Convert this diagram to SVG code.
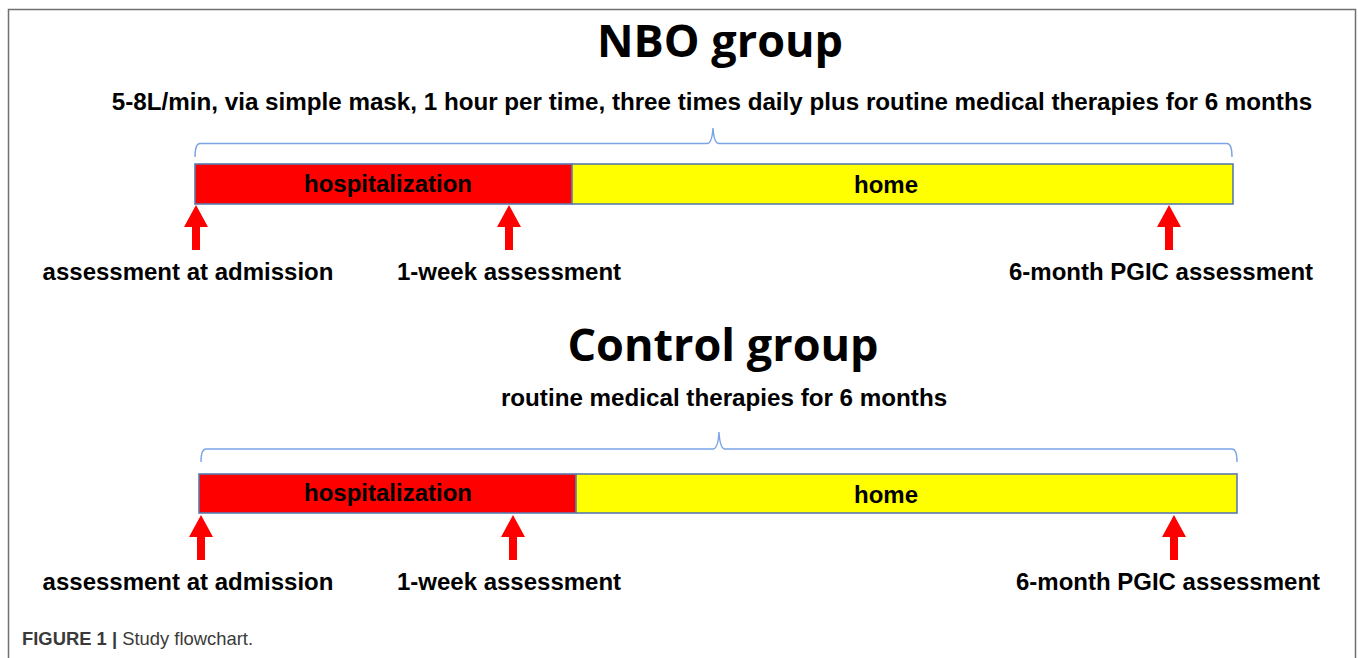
<svg xmlns="http://www.w3.org/2000/svg" width="1358" height="658" viewBox="0 0 1358 658">
  <defs>
    <style>
      .title { font-family: "Open Sans", "Noto Sans", "Liberation Sans", sans-serif; font-weight: 700; font-size: 45px; fill: #000; text-anchor: middle; }
      .sub { font-family: "Liberation Sans", Arial, sans-serif; font-weight: 700; font-size: 24.2px; fill: #000; text-anchor: middle; }
      .lbl { font-family: "Liberation Sans", Arial, sans-serif; font-weight: 700; font-size: 24px; fill: #000; text-anchor: middle; }
      .bar { stroke: #5a7bb0; stroke-width: 1.6; }
      .hosp { fill: #ff0000; }
      .home { fill: #ffff00; }
      .brace { fill: none; stroke: #7aa3e6; stroke-width: 1.4; }
      .arrow { fill: #ff0000; }
      .cap { font-family: "Liberation Sans", Arial, sans-serif; font-size: 18.4px; fill: #3a3a3a; }
    </style>
    <!-- upward block arrow, tip at origin -->
    <path id="uparrow" d="M0,0 L12,22 L4,22 L4,45 L-4,45 L-4,22 L-12,22 Z"/>
  </defs>

  <rect width="1358" height="658" fill="#fff"/>
  <!-- frame -->
  <path d="M8.5,658 L8.5,9.5 L1355.5,9.5 L1355.5,658" fill="none" stroke="#707070" stroke-width="1.5"/>

  <!-- NBO group -->
  <g id="nbo-title">
    <text class="title" x="720" y="57">NBO group</text>
    <text class="sub" x="712" y="110">5-8L/min, via simple mask, 1 hour per time, three times daily plus routine medical therapies for 6 months</text>
  </g>
  <g id="nbo-hospitalization">
    <rect class="bar hosp" x="195" y="164" width="377" height="40"/>
    <text class="lbl" x="388" y="192">hospitalization</text>
  </g>
  <g id="nbo-home">
    <rect class="bar home" x="572" y="164" width="661" height="40"/>
    <text class="lbl" x="886" y="193">home</text>
  </g>
  <g id="nbo-admission">
    <text class="lbl" x="188" y="280">assessment at admission</text>
  </g>
  <g id="nbo-week">
    <text class="lbl" x="509" y="280">1-week assessment</text>
  </g>
  <g id="nbo-month">
    <text class="lbl" x="1161" y="280">6-month PGIC assessment</text>
  </g>

  <!-- Control group -->
  <g id="control-title">
    <text class="title" x="723" y="361">Control group</text>
    <text class="sub" x="724" y="406">routine medical therapies for 6 months</text>
  </g>
  <g id="control-hospitalization">
    <rect class="bar hosp" x="199" y="474" width="377" height="39"/>
    <text class="lbl" x="388" y="501">hospitalization</text>
  </g>
  <g id="control-home">
    <rect class="bar home" x="576" y="474" width="661" height="39"/>
    <text class="lbl" x="886" y="503">home</text>
  </g>
  <g id="control-admission">
    <text class="lbl" x="188" y="590">assessment at admission</text>
  </g>
  <g id="control-week">
    <text class="lbl" x="509" y="590">1-week assessment</text>
  </g>
  <g id="control-month">
    <text class="lbl" x="1168" y="590">6-month PGIC assessment</text>
  </g>

  <!-- connectors: braces and assessment arrows -->
  <g id="connectors">
    <path class="brace" d="M195,157 Q195,143.5 200,143.5 L707,143.5 Q712,143.5 713,128 Q714,143.5 719,143.5 L1227,143.5 Q1232,143.5 1232,157"/>
    <path class="brace" d="M201,462 Q201,449 206,449 L713,449 Q718,449 719,432 Q720,449 725,449 L1232,449 Q1237,449 1237,462"/>

    <use href="#uparrow" class="arrow" x="196" y="205"/>
    <use href="#uparrow" class="arrow" x="509" y="205"/>
    <use href="#uparrow" class="arrow" x="1169" y="205"/>

    <use href="#uparrow" class="arrow" x="201" y="515"/>
    <use href="#uparrow" class="arrow" x="513" y="515"/>
    <use href="#uparrow" class="arrow" x="1174" y="515"/>
  </g>

  <!-- caption -->
  <text class="cap" x="22" y="645"><tspan font-weight="700">FIGURE 1 |</tspan> Study flowchart.</text>
</svg>
